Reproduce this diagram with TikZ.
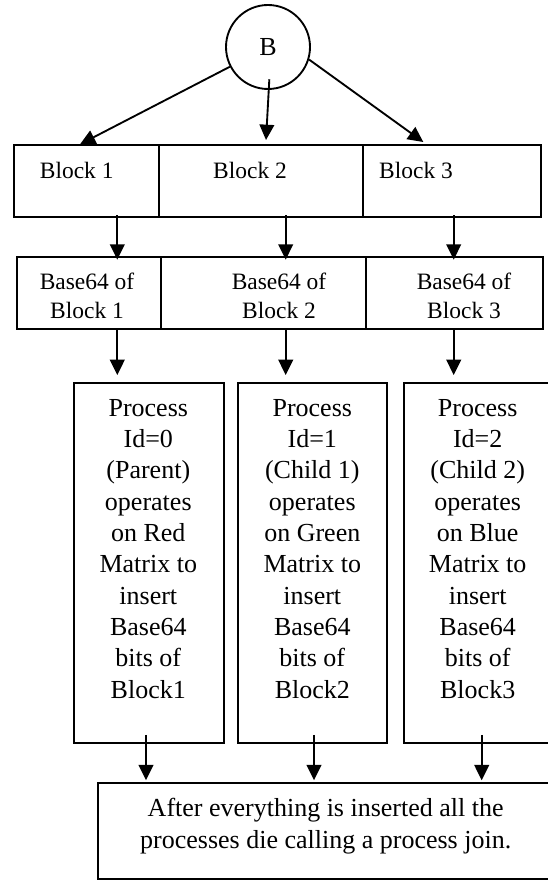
\documentclass[tikz,border=0pt]{standalone}
\usepackage{fontspec}
\setmainfont{Liberation Serif}
\usetikzlibrary{arrows.meta}

\tikzset{
  box/.style={draw,line width=1.4pt,anchor=north west,inner sep=0pt},
  txt/.style={inner sep=0pt,align=center},
  big/.style={font=\fontsize{19.5}{23.5}\selectfont},
  small/.style={font=\fontsize{17.6}{21.2}\selectfont},
  arr/.style={line width=1.4pt,-{Triangle[length=11.5pt,width=11pt]}}
}

\begin{document}
\begin{tikzpicture}[x=0.75pt,y=-0.75pt]
        \useasboundingbox (0,0) rectangle (547,880);
        \def\rowh{54pt} \def\proch{270pt} \def\procw{112.5pt}

        \node (B) at (268,47) [draw,circle,line width=1.4pt,minimum size=63pt,inner sep=0pt,big] {B};

        \node (blk1) at (13.3,144.3) [box,minimum width=108.75pt,minimum height=\rowh] {};
        \node (blk2) at (158.3,144.3) [box,minimum width=153pt,minimum height=\rowh] {};
        \node (blk3) at (362.3,144.3) [box,minimum width=133.3pt,minimum height=\rowh] {};
        \node (blk1txt) at (76.7,170) [txt,small] {Block 1};
        \node (blk2txt) at (250,170) [txt,small] {Block 2};
        \node (blk3txt) at (416,170) [txt,small] {Block 3};

        \node (bas1) at (15.7,255.7) [box,minimum width=108.2pt,minimum height=\rowh] {};
        \node (bas2) at (160,255.7) [box,minimum width=153.75pt,minimum height=\rowh] {};
        \node (bas3) at (365,255.7) [box,minimum width=132.5pt,minimum height=\rowh] {};
        \node (bas1txt) at (87,295.8) [txt,small] {Base64 of\\Block 1};
        \node (bas2txt) at (279,295.8) [txt,small] {Base64 of\\Block 2};
        \node (bas3txt) at (464,295.8) [txt,small] {Base64 of\\Block 3};

        \node (proc1) at (73.3,381.7) [box,minimum width=\procw,minimum height=\proch] {};
        \node (proc2) at (236.7,381.7) [box,minimum width=112pt,minimum height=\proch] {};
        \node (proc3) at (402.7,381.7) [box,minimum width=\procw,minimum height=\proch] {};
        \node (proc1txt) at (148.3,548.8) [txt,big] {Process\\Id=0\\(Parent)\\operates\\on Red\\Matrix to\\insert\\Base64\\bits of\\Block1};
        \node (proc2txt) at (312.3,548.8) [txt,big] {Process\\Id=1\\(Child 1)\\operates\\on Green\\Matrix to\\insert\\Base64\\bits of\\Block2};
        \node (proc3txt) at (477.7,548.8) [txt,big] {Process\\Id=2\\(Child 2)\\operates\\on Blue\\Matrix to\\insert\\Base64\\bits of\\Block3};

        \node (fin) at (96.7,782.3) [box,minimum width=343.5pt,minimum height=72pt] {};
        \node (fintxt) at (325.7,826) [txt,big] {After everything is inserted all the\\processes die calling a process join.};

        \coordinate (t1) at (80,144.3);
        \coordinate (t2) at (266,140);
        \coordinate (t3) at (423.3,142);
        \draw[arr] (B) -- (t1);
        \draw[arr] ([xshift=1pt,yshift=8pt]B.south) -- (t2);
        \draw[arr] (B.-17) -- (t3);

        \foreach \i/\x/\u in {1/117.3/146,2/285.7/314,3/453.7/481.7} {
          \coordinate (col\i) at (\x,0);
          \coordinate (out\i) at (\u,0);
          \draw[arr,shorten <=-2pt,shorten >=-3pt] (blk\i.south -| col\i) -- (bas\i.north -| col\i);
          \draw[arr,shorten >=5pt] (bas\i.south -| col\i) -- (proc\i.north -| col\i);
          \draw[arr,shorten <=-6.5pt,shorten >=1.5pt] (proc\i.south -| out\i) -- (fin.north -| out\i);
        }
      \end{tikzpicture}
\end{document}
